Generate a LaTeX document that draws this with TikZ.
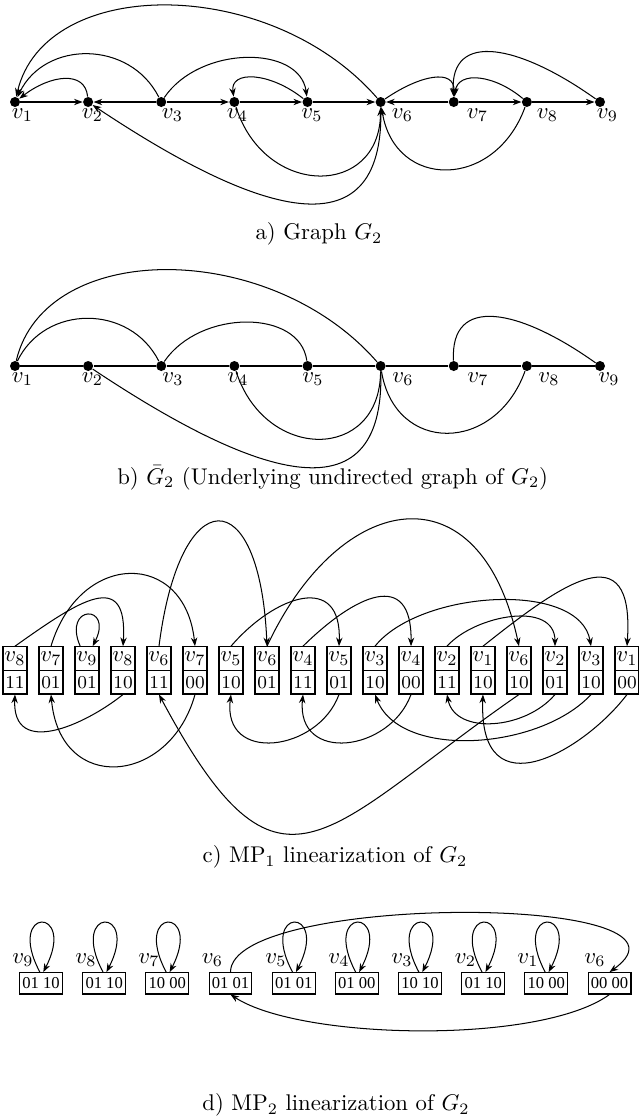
\documentclass[tikz,border=0pt]{standalone}
\usepackage{fontspec}
\newfontfamily\timesfont{Liberation Serif}
\usetikzlibrary{arrows.meta}
\begin{document}
\begin{tikzpicture}[x=0.44pt,y=-0.44pt,
  dot/.style={circle,fill=black,inner sep=0pt,minimum size=4.4pt},
  lbl/.style={inner sep=0pt},
  edge/.style={line width=0.45pt},
  arr/.style={edge,-{Stealth[length=3.8pt,width=2.8pt]}},
  celltop/.style={draw,line width=0.45pt,minimum width=10.56pt,minimum height=10.56pt,inner sep=0pt},
  cellbot/.style={draw,line width=0.45pt,minimum width=10.56pt,minimum height=10.25pt,inner sep=0pt,font=\footnotesize},
  dbox/.style={draw,line width=0.45pt,minimum width=18.9pt,minimum height=9.4pt,inner sep=0pt,font=\timesfont\fontsize{7.3}{8}\selectfont},
  captxt/.style={inner sep=0pt}]
\useasboundingbox (0,0) rectangle (639,1117);

% ---------- part a ----------
\foreach \i in {1,...,9} \node[dot] (a\i) at ({15+73.125*(\i-1)},102) {};
\foreach \i/\lx in {1/22.5,2/92.5,3/172.5,4/237.5,5/312,6/402.5,7/477.5,8/547.5,9/607.5}
  \node[lbl] (la\i) at (\lx,115) {$v_{\i}$};
\draw[arr] (a1) -- (a2);
\draw[arr] (a3) -- (a2);
\draw[arr] (a3) -- (a4);
\draw[arr] (a4) -- (a5);
\draw[arr] (a5) -- (a6);
\draw[arr] (a7) -- (a6);
\draw[arr] (a7) -- (a8);
\draw[arr] (a8) -- (a9);
\draw[arr] (a6) .. controls +(-110.6,-127) and +(30,-127) .. (a1);
\draw[arr] (a3) .. controls +(-31.25,-62) and +(30,-62) .. (a1);
\draw[arr] (a2) .. controls +(-3,-32) and +(35,-27) .. (a1);
\draw[arr] (a3) .. controls +(38.75,-57) and +(-7.5,-57) .. (a5);
\draw[arr] (a5) .. controls +(-37.5,-30) and +(-4.4,-32) .. (a4);
\draw[arr] (a6) .. controls +(39.4,-27) and +(1.25,-34) .. (a7);
\draw[arr] (a8) .. controls +(-31.9,-27) and +(4.25,-32) .. (a7);
\draw[arr] (a9) .. controls +(-80,-57) and +(-3.75,-72) .. (a7);
\draw[arr] (a4) .. controls +(30.6,96) and +(-0.6,96) .. (a6);
\draw[arr] (a6) .. controls +(4.4,158) and +(161.9,108) .. (a2);
\draw[arr] (a8) .. controls +(-31.9,88) and +(14.4,88) .. (a6);
\node[captxt] (capa) at (319,234) {a) Graph $G_2$};

% ---------- part b ----------
\foreach \i in {1,...,9} \node[dot] (b\i) at ({15+73.125*(\i-1)},366) {};
\foreach \i/\lx in {1/22.5,2/92.5,3/173,4/238,5/313,6/403,7/478,8/549,9/609}
  \node[lbl] (lb\i) at (\lx,379) {$v_{\i}$};
\foreach \i/\j in {1/2,2/3,3/4,4/5,5/6,6/7,7/8,8/9} \draw[edge] (b\i) -- (b\j);
\draw[edge] (b6) .. controls +(-110.6,-127) and +(30,-127) .. (b1);
\draw[edge] (b3) .. controls +(-31.25,-62) and +(30,-62) .. (b1);
\draw[edge] (b3) .. controls +(38.75,-57) and +(-7.5,-57) .. (b5);
\draw[edge] (b9) .. controls +(-80,-57) and +(-3.75,-72) .. (b7);
\draw[edge] (b4) .. controls +(30.6,96) and +(-0.6,96) .. (b6);
\draw[edge] (b6) .. controls +(4.4,158) and +(161.9,108) .. (b2);
\draw[edge] (b8) .. controls +(-31.9,88) and +(14.4,88) .. (b6);
\node[captxt] (capb) at (332.7,478) {b) $\bar{G}_2$ (Underlying undirected graph of $G_2$)};

% ---------- part c ----------
\foreach \k/\v/\c in {1/8/11,2/7/01,3/9/01,4/8/10,5/6/11,6/7/00,7/5/10,8/6/01,9/4/11,10/5/01,11/3/10,12/4/00,13/2/11,14/1/10,15/6/10,16/2/01,17/3/10,18/1/00}{
  \node[celltop] (ct\k) at ({15+36*(\k-1)},658.7) {$v_{\v}$};
  \node[cellbot] (cb\k) at ({15+36*(\k-1)},682.35) {\c};
}
% above
\draw[arr] (ct1.north) .. controls (80,600) and (128,568) .. (ct4.north);
\draw[arr] (ct2.north) .. controls (80,550) and (185,550) .. (ct6.north);
\draw[arr] ([xshift=-3pt]ct3.north) .. controls (62,604) and (114,604) .. ([xshift=2.5pt]ct3.north);
\draw[arr] (ct5.north) .. controls (180,480) and (260,480) .. (ct8.north);
\draw[arr] (ct7.north) .. controls (275,595) and (342,572) .. (ct10.north);
\draw[arr] (ct8.north) .. controls (340,490) and (480,465) .. (ct15.north);
\draw[arr] (ct9.north) .. controls (355,595) and (412,568) .. (ct12.north);
\draw[arr] (ct11.north) .. controls (420,590) and (580,580) .. (ct17.north);
\draw[arr] (ct13.north) .. controls (475,615) and (555,600) .. (ct16.north);
\draw[arr] (ct14.north) .. controls (560,585) and (635,530) .. (ct18.north);
% below
\draw[arr] (cb4.south) .. controls (85,725) and (12,758) .. (cb1.south);
\draw[arr] (cb6.south) .. controls (170,785) and (60,795) .. (cb2.south);
\draw[arr] (cb15.south) .. controls (322,831) and (281,923) .. (cb5.south);
\draw[arr] (cb10.south) .. controls (318,752) and (222,764) .. (cb7.south);
\draw[arr] (cb12.south) .. controls (390,752) and (296,764) .. (cb9.south);
\draw[arr] (cb17.south) .. controls (540,750) and (400,760) .. (cb11.south);
\draw[arr] (cb16.south) .. controls (525,730) and (455,735) .. (cb13.south);
\draw[arr] (cb18.south) .. controls (585,750) and (478,814) .. (cb14.south);
\node[captxt] (capc) at (335,857) {c) MP$_1$ linearization of $G_2$};

% ---------- part d ----------
\foreach \k/\v/\c/\lx in {1/9/01 10/23,2/8/01 10/86,3/7/10 00/149,4/6/01 01/212.5,5/5/01 01/276,6/4/01 00/339,7/3/10 10/402,8/2/01 10/465.5,9/1/10 00/528,10/6/00 00/595}{
  \node[dbox] (d\k) at ({41+63.17*(\k-1)},983.3) {\c};
  \node[lbl] (ld\k) at (\lx,960) {$v_{\v}$};
}
\foreach \k in {1,2,3,5,6,7,8,9}
  \draw[arr] ([xshift=-0.5pt]d\k.north) .. controls +(-35,-66) and +(34,-66) .. ([xshift=1pt]d\k.north);
\draw[arr] (d4.north) .. controls (230,893) and (720,893) .. (d10.north);
\draw[arr] (d10.south) .. controls (540,1045) and (300,1040) .. (d4.south);
\node[captxt] (capd) at (336,1105) {d) MP$_2$ linearization of $G_2$};
\end{tikzpicture}
\end{document}
